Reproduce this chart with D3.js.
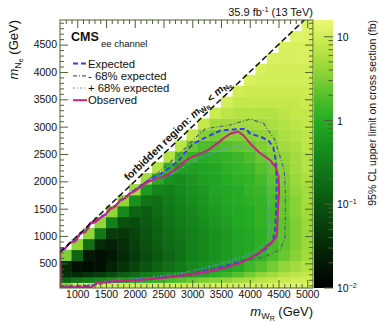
<!DOCTYPE html>
<html><head><meta charset="utf-8">
<script src="https://cdn.jsdelivr.net/npm/d3@7"></script>
<style>
body{margin:0;background:#fff}
text{font-family:"Liberation Sans",Arial,Helvetica,sans-serif;fill:#111}
</style>
</head><body>
<svg id="c" width="378" height="322"></svg>
<script>
// ---------------- data ----------------
const xCenters = [800,1000,1200,1400,1600,1800,2000,2200,2400,2600,2800,3000,3200,3400,3600,3800,4000,4200,4400,4600,4800,5000];
const yEdges = [50,150,250,350,550,750,950,1150,1350,1550,1750,1950,2150,2350,2550,2750,2950,3150,3350,3550,3750,3950,4150,4350,4550,4750,4950];
// log10 of the 95% CL upper limit (fb), one list per W_R column, from low N mass upward
const limitLog10 = [
 [0.6,-0.8,-1.4,-1.5,0.5],
 [1.0,-0.6,-1.5,-1.8,-0.8,0.6],
 [1.0,-0.5,-1.4,-1.85,-1.7,-0.7,0.6],
 [1.0,-0.4,-1.3,-1.8,-1.8,-1.5,-0.6,0.6],
 [1.0,-0.3,-1.1,-1.6,-1.7,-1.6,-1.3,-0.5,0.6],
 [1.0,-0.2,-0.9,-1.4,-1.5,-1.45,-1.35,-1.05,-0.4,0.6],
 [1.0,-0.1,-0.75,-1.2,-1.3,-1.25,-1.2,-1.1,-0.85,-0.3,0.7],
 [1.0,0.0,-0.55,-1.0,-1.1,-1.05,-1.0,-0.95,-0.9,-0.65,-0.2,0.7],
 [1.0,0.1,-0.45,-0.85,-0.95,-0.9,-0.85,-0.8,-0.75,-0.7,-0.45,0.0,0.8],
 [1.0,0.2,-0.35,-0.7,-0.8,-0.75,-0.7,-0.65,-0.6,-0.55,-0.5,-0.3,0.1,0.8],
 [1.0,0.3,-0.25,-0.55,-0.65,-0.65,-0.6,-0.55,-0.5,-0.45,-0.4,-0.35,-0.15,0.2,0.85],
 [1.0,0.4,-0.15,-0.4,-0.5,-0.5,-0.5,-0.45,-0.4,-0.35,-0.3,-0.25,-0.15,0.1,0.4,0.9],
 [1.0,0.5,-0.05,-0.3,-0.4,-0.4,-0.4,-0.35,-0.3,-0.25,-0.2,-0.15,-0.1,0.0,0.25,0.55,0.9],
 [1.05,0.55,0.05,-0.2,-0.3,-0.3,-0.3,-0.25,-0.2,-0.15,-0.1,-0.1,-0.05,0.05,0.25,0.45,0.7,0.95],
 [1.05,0.6,0.15,-0.1,-0.2,-0.2,-0.2,-0.15,-0.1,-0.05,-0.05,0.0,0.05,0.1,0.3,0.5,0.7,0.85,1.0],
 [1.05,0.7,0.3,0.0,-0.1,-0.1,-0.1,-0.05,-0.05,0.0,0.0,0.05,0.1,0.15,0.35,0.5,0.7,0.8,0.9,1.0],
 [1.05,0.75,0.45,0.15,0.0,-0.05,-0.05,0.0,0.0,0.05,0.1,0.1,0.15,0.25,0.4,0.55,0.7,0.8,0.9,0.95,1.05],
 [1.05,0.85,0.6,0.3,0.1,0.05,0.05,0.1,0.1,0.1,0.15,0.2,0.3,0.4,0.5,0.6,0.7,0.8,0.9,0.95,1.0,1.05],
 [1.1,0.9,0.7,0.45,0.25,0.2,0.2,0.2,0.2,0.25,0.3,0.35,0.4,0.5,0.6,0.65,0.75,0.8,0.9,0.95,1.0,1.0,1.05],
 [1.1,0.95,0.8,0.6,0.4,0.35,0.35,0.35,0.4,0.4,0.45,0.5,0.55,0.6,0.7,0.75,0.8,0.85,0.9,0.95,1.0,1.0,1.05,1.05],
 [1.1,1.0,0.85,0.7,0.55,0.5,0.5,0.5,0.55,0.55,0.6,0.65,0.7,0.7,0.75,0.8,0.85,0.9,0.9,0.95,1.0,1.0,1.05,1.05,1.1],
 [1.1,1.0,0.9,0.8,0.7,0.65,0.65,0.65,0.7,0.7,0.7,0.75,0.8,0.8,0.85,0.85,0.9,0.9,0.95,0.95,1.0,1.0,1.05,1.05,1.1,1.1]
];
const observedContour = [[700,740],[780,760],[870,880],[960,900],[1050,1050],[1140,1070],[1220,1230],[1310,1250],[1400,1330],[1480,1380],[1570,1500],[1650,1530],[1745,1650],[1830,1690],[1920,1780],[2000,1820],[2090,1890],[2180,1960],[2270,2010],[2400,2050],[2520,2090],[2650,2180],[2740,2250],[2860,2360],[2960,2430],[3080,2480],[3190,2530],[3300,2590],[3430,2690],[3550,2790],[3660,2870],[3800,2910],[3900,2830],[4010,2690],[4150,2540],[4360,2380],[4450,2260],[4500,2100],[4510,1800],[4490,1500],[4480,1200],[4470,1000],[4400,900],[4360,870],[4180,706],[4010,596],[3830,505],[3610,432],[3310,360],[3015,305],[2700,260],[2440,232],[2100,200],[1690,177],[1340,141],[1250,70],[710,65],[705,400],[700,740]];
const expectedContour = [[700,750],[790,780],[880,890],[970,920],[1060,1060],[1150,1090],[1230,1240],[1320,1270],[1410,1350],[1500,1400],[1580,1510],[1660,1550],[1755,1660],[1840,1710],[1930,1800],[2020,1850],[2100,1920],[2200,1990],[2300,2060],[2420,2120],[2540,2200],[2660,2290],[2780,2400],[2900,2560],[3020,2690],[3250,2810],[3490,2930],[3720,2950],[3930,2960],[4010,2870],[4200,2810],[4330,2740],[4410,2620],[4450,2400],[4470,2000],[4460,1500],[4440,1100],[4400,900],[4280,770],[4100,640],[3900,550],[3650,470],[3400,400],[3100,330],[2800,280],[2500,245],[2200,215],[1800,185],[1400,150],[1250,90],[715,75],[708,400],[700,750]];
const minus68Contour = [[700,760],[800,790],[900,900],[1000,930],[1090,1080],[1180,1110],[1260,1260],[1350,1290],[1440,1380],[1530,1430],[1620,1540],[1710,1590],[1800,1700],[1890,1750],[1980,1840],[2080,1900],[2180,1990],[2290,2070],[2400,2150],[2520,2260],[2650,2380],[2780,2500],[2920,2650],[3060,2800],[3225,2960],[3400,2990],[3660,3030],[4010,3140],[4240,3060],[4440,2750],[4530,2440],[4600,2200],[4620,1800],[4620,1300],[4610,970],[4530,750],[4240,615],[3960,560],[3660,440],[3360,345],[3080,290],[2700,250],[2300,210],[1900,175],[1500,140],[1300,100],[1250,65],[715,58],[705,400],[700,760]];
const plus68Contour = [[700,730],[780,740],[860,860],[950,880],[1040,1030],[1130,1050],[1210,1210],[1300,1230],[1390,1310],[1470,1360],[1560,1480],[1640,1510],[1735,1630],[1820,1670],[1910,1760],[1990,1800],[2080,1870],[2170,1930],[2260,1990],[2400,2030],[2550,2080],[2700,2160],[2850,2260],[3000,2360],[3200,2450],[3450,2560],[3660,2620],[3850,2640],[4050,2560],[4250,2450],[4330,2300],[4340,2000],[4330,1500],[4330,1100],[4300,900],[4150,760],[3950,640],[3700,560],[3450,480],[3150,400],[2850,330],[2550,280],[2200,235],[1800,200],[1400,165],[1260,110],[720,85],[712,400],[700,730]];
const xTickValues = [1000,1500,2000,2500,3000,3500,4000,4500,5000];
const yTickValues = [500,1000,1500,2000,2500,3000,3500,4000,4500];
const cbTickValues = [0.01,0.1,1,10];
const cbTickLabels = [["10","\u22122"],["10","\u22121"],["1",""],["10",""]];
const legendLabels = ["Expected","- 68% expected","+ 68% expected","Observed"];

// ---------------- layout ----------------
const svg = d3.select("#c");
const X0 = 60, X1 = 313, Y0 = 20, Y1 = 288;
const frameColor = "#4f6233";
const x = d3.scaleLinear().domain([700,5100]).range([X0,X1]);
const y = d3.scaleLinear().domain([50,4950]).range([Y1,Y0]);
const colorDomain = [-2,-1.5,-1,-0.5,0,0.3,0.6,0.9,1.2];
const colorRange = ["#000000","#052a07","#0b5510","#13801a","#25ac25","#55c02c","#92d538","#c4e84a","#ecf874"];
const color = d3.scaleLinear().domain(colorDomain).range(colorRange).clamp(true);

svg.append("defs").append("clipPath").attr("id","pc")
  .append("rect").attr("x",X0).attr("y",Y0).attr("width",X1-X0).attr("height",Y1-Y0);

// heat map cells
const cells = [];
xCenters.forEach((xc,c) => limitLog10[c].forEach((v,k) => {
  cells.push({x0:xc-100, x1:xc+100, y0:yEdges[k], y1:yEdges[k+1], v});
}));
const gCells = svg.append("g").attr("clip-path","url(#pc)");
gCells.selectAll("rect").data(cells).join("rect")
  .attr("x", d => x(d.x0)).attr("width", d => x(d.x1)-x(d.x0)+0.4)
  .attr("y", d => y(d.y1)).attr("height", d => y(d.y0)-y(d.y1)+0.4)
  .attr("fill", d => color(d.v));

// contours
const line = d3.line().x(d => x(d[0])).y(d => y(d[1]));
const styles = {
  exp:{stroke:"#3b3bf2", w:2, dash:"5,3"},
  m68:{stroke:"#5a5a80", w:1.2, dash:"4,2,1,2"},
  p68:{stroke:"#6f8ff0", w:1.2, dash:"2,2,1,2"},
  obs:{stroke:"#c8237f", w:2, dash:null}
};
const gC = svg.append("g").attr("clip-path","url(#pc)").attr("fill","none");
[[plus68Contour,styles.p68],[minus68Contour,styles.m68],[expectedContour,styles.exp],[observedContour,styles.obs]].forEach(([pts,s]) => {
  gC.append("path").attr("d", line(pts)).attr("stroke", s.stroke)
    .attr("stroke-width", s.w).attr("stroke-dasharray", s.dash);
});

// diagonal
svg.append("path").attr("d", line([[700,700],[4950,4950]]))
  .attr("stroke","#111").attr("stroke-width",1.5).attr("stroke-dasharray","6,3").attr("fill","none");

// forbidden text
const ang = Math.atan2(y(4000)-y(1000), x(4000)-x(1000));
const mC = 2830;
const off = 4.5;
const px = x(mC) + Math.sin(ang)*off, py = y(mC) - Math.cos(ang)*off;
const ft = svg.append("text").attr("transform", `translate(${px},${py}) rotate(${ang*180/Math.PI})`)
  .attr("text-anchor","middle").attr("font-weight","bold").attr("font-size",10.6);
ft.append("tspan").text("forbidden region: ");
ft.append("tspan").attr("font-style","italic").text("m");
ft.append("tspan").attr("font-size",7.5).attr("dy",2.5).text("W");
ft.append("tspan").attr("font-size",5.5).attr("dy",1.2).text("R");
ft.append("tspan").attr("dy",-3.7).text(" < ");
ft.append("tspan").attr("font-style","italic").text("m");
ft.append("tspan").attr("font-size",7.5).attr("dy",2.5).text("N");
ft.append("tspan").attr("font-size",5.5).attr("dy",1.2).text("e");

// frame & ticks
const gA = svg.append("g");
function ax(gen, tx, ty, vals, size, labels){
  const a = gen.tickValues(vals).tickSize(size).tickPadding(3);
  a.tickFormat(labels ? d3.format("d") : "");
  const g = gA.append("g").attr("transform",`translate(${tx},${ty})`).call(a);
  g.select(".domain").remove();
  g.selectAll("line").attr("stroke",frameColor).attr("stroke-width",1);
  g.selectAll("text").attr("font-size",10.5).attr("fill","#222")
    .attr("font-family",'"Liberation Sans",Arial,sans-serif');
  return g;
}
const minorX = d3.range(800,5100,100).filter(v => v%500 !== 0);
const minorY = d3.range(100,4950,100).filter(v => v%500 !== 0);
ax(d3.axisBottom(x), 0, Y1, xTickValues, -8, true);
ax(d3.axisBottom(x), 0, Y1, minorX, -4, false);
ax(d3.axisTop(x), 0, Y0, xTickValues, -8, false);
ax(d3.axisTop(x), 0, Y0, minorX, -4, false);
ax(d3.axisLeft(y), X0, 0, yTickValues, -8, true);
ax(d3.axisLeft(y), X0, 0, minorY, -4, false);
ax(d3.axisRight(y), X1, 0, yTickValues, -8, false);
ax(d3.axisRight(y), X1, 0, minorY, -4, false);
gA.append("rect").attr("x",X0).attr("y",Y0).attr("width",X1-X0).attr("height",Y1-Y0)
  .attr("fill","none").attr("stroke",frameColor).attr("stroke-width",1);

// colorbar
const CB0 = 314, CB1 = 333;
const grad = svg.select("defs").append("linearGradient").attr("id","cbg")
  .attr("x1",0).attr("y1",1).attr("x2",0).attr("y2",0);
colorDomain.forEach((d,i) => grad.append("stop")
  .attr("offset", (d-colorDomain[0])/(colorDomain[colorDomain.length-1]-colorDomain[0]))
  .attr("stop-color", colorRange[i]));
svg.append("rect").attr("x",CB0).attr("y",Y0).attr("width",CB1-CB0).attr("height",Y1-Y0).attr("fill","url(#cbg)");
const cb = d3.scaleLog().domain([0.01, Math.pow(10,1.2)]).range([Y1,Y0]);
const cbMinor = [];
[0.01,0.1,1].forEach(b => d3.range(2,10).forEach(m => cbMinor.push(b*m)));
svg.append("g").selectAll("line").data(cbMinor).join("line")
  .attr("x1",CB1).attr("x2",CB1-4.5).attr("y1",d=>cb(d)).attr("y2",d=>cb(d)).attr("stroke",frameColor);
svg.append("g").selectAll("line").data(cbTickValues).join("line")
  .attr("x1",CB1).attr("x2",CB1-9).attr("y1",d=>cb(d)).attr("y2",d=>cb(d)).attr("stroke",frameColor);
cbTickValues.forEach((v,i) => {
  const t = svg.append("text").attr("x",CB1+4).attr("y",cb(v)+4).attr("font-size",10.5);
  t.append("tspan").text(cbTickLabels[i][0]);
  if(cbTickLabels[i][1]) t.append("tspan").attr("font-size",7).attr("dy",-4.5).text(cbTickLabels[i][1]);
});
svg.append("text").attr("transform",`translate(376,${Y0}) rotate(-90)`).attr("text-anchor","end")
  .attr("font-size",10.5).text("95% CL upper limit on cross section (fb)");

// axis titles
const yt = svg.append("text").attr("transform",`translate(18,${Y0}) rotate(-90)`).attr("text-anchor","end").attr("font-size",13);
yt.append("tspan").attr("font-style","italic").text("m");
yt.append("tspan").attr("font-size",9).attr("dy",3).text("N");
yt.append("tspan").attr("font-size",7).attr("dy",1.5).text("e");
yt.append("tspan").attr("dy",-4.5).text(" (GeV)");
const xt = svg.append("text").attr("x",X1).attr("y",316).attr("text-anchor","end").attr("font-size",13);
xt.append("tspan").attr("font-style","italic").text("m");
xt.append("tspan").attr("font-size",9).attr("dy",3).text("W");
xt.append("tspan").attr("font-size",7).attr("dy",1.5).text("R");
xt.append("tspan").attr("dy",-4.5).text(" (GeV)");

// lumi
const lt = svg.append("text").attr("x",X1).attr("y",16).attr("text-anchor","end").attr("font-size",11);
lt.append("tspan").text("35.9 fb");
lt.append("tspan").attr("font-size",7.5).attr("dy",-4).text("-1");
lt.append("tspan").attr("dy",4).text(" (13 TeV)");

// CMS
svg.append("text").attr("x",71).attr("y",41).attr("font-weight","bold").attr("font-size",12.5).text("CMS");
svg.append("text").attr("x",101).attr("y",47).attr("font-size",9.5).text("ee channel");

// legend
const legStyles = [styles.exp, styles.m68, styles.p68, styles.obs];
const legY = [63.5, 75.8, 88, 100.2];
legendLabels.forEach((lab,i) => {
  const s = legStyles[i];
  svg.append("line").attr("x1",73).attr("x2",87).attr("y1",legY[i]).attr("y2",legY[i])
    .attr("stroke",s.stroke).attr("stroke-width",s.w).attr("stroke-dasharray",s.dash);
  svg.append("text").attr("x",88).attr("y",legY[i]+4).attr("font-size",11.3).text(lab);
});
</script>
</body></html>
